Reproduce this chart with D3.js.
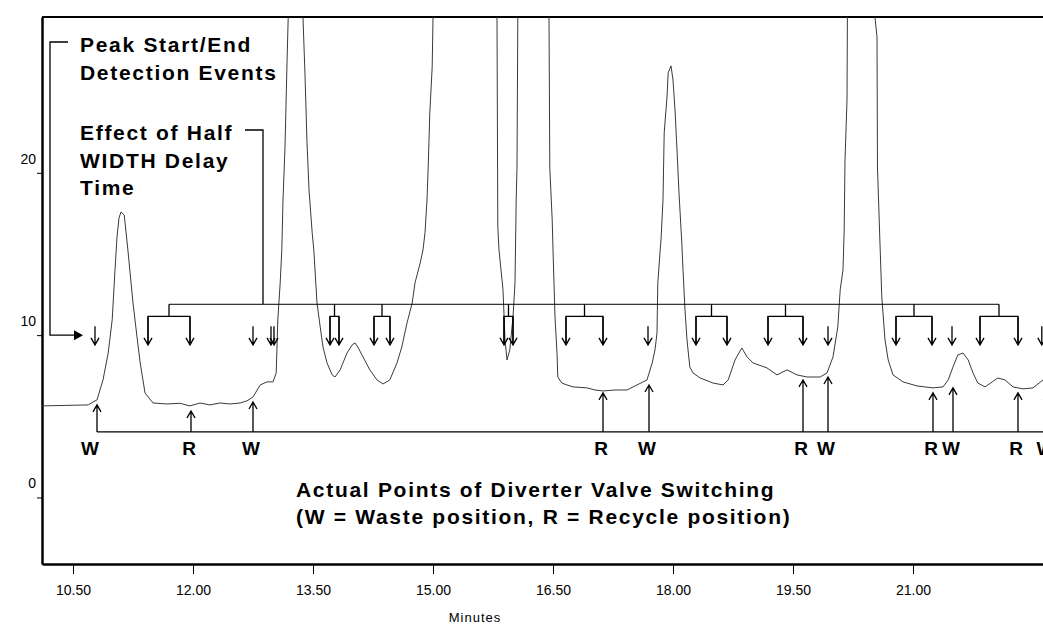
<!DOCTYPE html>
<html>
<head>
<meta charset="utf-8">
<title>Diverter valve switching</title>
<script src="https://d3js.org/d3.v7.min.js"></script>
<style>
  body { margin: 0; background: #fff; }
  svg { display: block; font-family: "Liberation Sans", Arial, sans-serif; }
</style>
</head>
<body>
<script>
// detector trace, minutes vs signal (off-scale peaks given a large apex value)
var traceTime = [
  10.11, 10.69, 10.75, 10.80, 10.875, 10.94, 10.99, 11.025, 11.05, 11.075,
  11.10, 11.14, 11.16, 11.19, 11.25, 11.30, 11.34, 11.40, 11.50, 11.675,
  11.84, 11.96, 12.09, 12.21, 12.34, 12.46, 12.59, 12.675, 12.75, 12.84,
  12.925, 13.00, 13.04, 13.05, 13.06, 13.09, 13.11, 13.125, 13.15, 13.175,
  13.19, 13.275, 13.375, 13.40, 13.425, 13.45, 13.49, 13.51, 13.55, 13.59,
  13.625, 13.675, 13.74, 13.775, 13.84, 13.925, 13.99, 14.025, 14.06, 14.125,
  14.21, 14.30, 14.375, 14.46, 14.55, 14.61, 14.675, 14.74, 14.775, 14.84,
  14.875, 14.90, 14.925, 14.94, 14.96, 14.99, 15.00, 15.40, 15.80, 15.81,
  15.825, 15.875, 15.90, 15.925, 15.96, 16.00, 16.025, 16.04, 16.05, 16.06,
  16.25, 16.45, 16.46, 16.49, 16.50, 16.525, 16.55, 16.56, 16.61, 16.675,
  16.75, 16.925, 17.025, 17.125, 17.275, 17.425, 17.55, 17.675, 17.74, 17.775,
  17.80, 17.81, 17.84, 17.85, 17.875, 17.89, 17.925, 17.94, 17.975, 18.00,
  18.025, 18.05, 18.075, 18.11, 18.125, 18.15, 18.175, 18.21, 18.25, 18.34,
  18.50, 18.625, 18.69, 18.775, 18.86, 18.925, 19.00, 19.175, 19.30, 19.425,
  19.55, 19.675, 19.84, 19.925, 20.00, 20.06, 20.09, 20.125, 20.14, 20.15,
  20.175, 20.18, 20.35, 20.525, 20.55, 20.556, 20.59, 20.61, 20.65, 20.69,
  20.75, 20.875, 21.05, 21.25, 21.375, 21.44, 21.50, 21.56, 21.625, 21.69,
  21.75, 21.81, 21.90, 21.99, 22.06, 22.15, 22.25, 22.375, 22.50, 22.625
];
var traceSignal = [
  5.64, 5.70, 5.88, 6.01, 7.24, 8.90, 10.94, 14.02, 16.05, 17.22,
  17.59, 17.41, 16.48, 15.06, 11.98, 9.89, 8.29, 6.44, 5.82, 5.76,
  5.80, 5.64, 5.82, 5.70, 5.82, 5.76, 5.82, 5.95, 6.19, 6.93,
  7.12, 7.12, 7.67, 9.27, 10.94, 13.22, 15.25, 18.33, 21.60, 26.77,
  29.54, 60, 29.54, 26.03, 21.84, 18.95, 16.30, 15.25, 11.98, 10.51,
  9.27, 8.29, 7.55, 7.42, 7.86, 8.90, 9.40, 9.52, 9.27, 8.66,
  7.86, 7.24, 6.99, 7.24, 8.29, 9.27, 10.75, 11.98, 13.22, 14.45,
  15.25, 16.30, 18.33, 20.36, 23.69, 26.53, 29.54, 70, 29.42, 16.67,
  15.25, 12.79, 9.70, 8.47, 9.09, 11.12, 13.22, 18.33, 20.36, 29.54,
  70, 29.54, 20.30, 17.10, 15.25, 11.12, 8.90, 7.42, 7.05, 6.93,
  6.81, 6.75, 6.62, 6.56, 6.62, 6.62, 6.93, 7.24, 8.29, 9.09,
  10.14, 13.22, 15.25, 15.87, 18.33, 22.46, 24.68, 26.16, 26.59, 25.72,
  23.88, 21.41, 18.76, 15.68, 14.02, 11.55, 9.70, 8.04, 7.67, 7.36,
  7.05, 6.93, 7.24, 8.47, 9.21, 8.66, 8.29, 7.98, 7.55, 7.86,
  7.55, 7.42, 7.42, 7.67, 8.66, 10.51, 12.79, 14.02, 16.48, 20.80,
  24.49, 29.54, 70, 29.54, 28.37, 20.36, 15.25, 12.35, 9.70, 8.47,
  7.55, 7.12, 6.87, 6.75, 6.81, 7.24, 8.04, 8.78, 8.90, 8.47,
  7.67, 7.05, 6.81, 7.12, 7.36, 7.24, 6.81, 6.69, 6.75, 7.24
];

// peak start/end detection events
var eventTimes = [10.775, 12.75, 12.975, 13.0125, 17.6875, 19.9375, 21.4875, 22.61];
// events shifted by the half WIDTH delay (start, end of each bracket)
var delayStart = [11.4375, 13.7125, 14.2625, 15.8875, 16.6625, 18.2875, 19.1875, 20.7875, 21.8375];
var delayEnd   = [11.9625, 13.825, 14.4625, 16.0, 17.125, 18.675, 19.625, 21.2375, 22.3125];

// diverter valve switching points
var valveTimes  = [10.8, 11.975, 12.75, 17.125, 17.7, 19.625, 19.9375, 21.25, 21.5, 22.3125, 22.68];
var valveLabels = ["W", "R", "W", "R", "W", "R", "W", "R", "W", "R", "W"];
var valveLevels = [5.70, 5.33, 5.88, 6.44, 6.93, 7.24, 7.42, 6.44, 6.75, 6.44, 6.44];

var xTicks = [10.5, 12, 13.5, 15, 16.5, 18, 19.5, 21];
var yTicks = [0, 10, 20];

var width = 1043, height = 626;
var plotL = 42, plotR = 1043, plotT = 17, plotB = 564;

var svg = d3.select("body").append("svg")
  .attr("width", width).attr("height", height);

var x = d3.scaleLinear().domain([10.1125, 22.625]).range([plotL, plotR]);
var y = d3.scaleLinear().domain([-4.1, 29.6]).range([plotB, plotT]);

svg.append("clipPath").attr("id", "plot")
  .append("rect").attr("x", plotL).attr("y", plotT)
  .attr("width", plotR - plotL).attr("height", plotB - plotT);

// frame + axes
svg.append("line").attr("x1", plotL).attr("x2", plotR).attr("y1", plotT).attr("y2", plotT)
  .attr("stroke", "#000").attr("stroke-width", 2);

var xAxis = d3.axisBottom(x).tickValues(xTicks).tickFormat(d3.format(".2f"))
  .tickSize(10).tickSizeOuter(0).tickPadding(11);
var gx = svg.append("g").attr("transform", "translate(0," + plotB + ")").call(xAxis);
gx.select(".domain").attr("stroke-width", 2.5);
gx.selectAll("text").attr("font-size", 14).attr("font-family", "Liberation Sans, Arial, sans-serif");

var yAxis = d3.axisLeft(y).tickValues(yTicks).tickSize(5).tickSizeOuter(0).tickPadding(1);
var gy = svg.append("g").attr("transform", "translate(" + plotL + ",0)").call(yAxis);
gy.select(".domain").attr("stroke-width", 2.5);
gy.selectAll("text").attr("font-size", 14).attr("y", -14)
  .attr("font-family", "Liberation Sans, Arial, sans-serif");

svg.append("text").attr("x", 475).attr("y", 622).attr("text-anchor", "middle")
  .attr("font-size", 13).attr("letter-spacing", 1).text("Minutes");

// trace
var trace = traceTime.map(function(t, i) { return [t, traceSignal[i]]; });
var line = d3.line().x(function(d) { return x(d[0]); }).y(function(d) { return y(d[1]); });
svg.append("path").datum(trace).attr("d", line)
  .attr("clip-path", "url(#plot)")
  .attr("fill", "none").attr("stroke", "#3a3a3a").attr("stroke-width", 1);

var ann = svg.append("g").attr("clip-path", "url(#plot)")
  .attr("fill", "none").attr("stroke", "#000").attr("stroke-width", 1.3);

function downArrow(px, y1, y2) {
  ann.append("path").attr("d", "M" + px + "," + y1 + "V" + y2 +
    "M" + (px - 4) + "," + (y2 - 7) + "L" + px + "," + y2 + "L" + (px + 4) + "," + (y2 - 7));
}
function upArrow(px, y1, y2) {
  ann.append("path").attr("d", "M" + px + "," + y1 + "V" + y2 +
    "M" + (px - 4) + "," + (y2 + 7) + "L" + px + "," + y2 + "L" + (px + 4) + "," + (y2 + 7));
}

var yLink = y(11.9), yBracket = y(11.15), yTip = y(9.4), yEventTop = y(10.55);

eventTimes.forEach(function(t) { downArrow(x(t), yEventTop, yTip); });

var mids = delayStart.map(function(s, i) { return (x(s) + x(delayEnd[i])) / 2; });
delayStart.forEach(function(s, i) {
  var a = x(s), b = x(delayEnd[i]);
  ann.append("path").attr("d", "M" + a + "," + (yTip - 2) + "V" + yBracket + "H" + b + "V" + (yTip - 2) +
    "M" + mids[i] + "," + yBracket + "V" + yLink);
  downArrow(a, yBracket, yTip);
  downArrow(b, yBracket, yTip);
});
ann.append("line").attr("x1", d3.min(mids)).attr("x2", d3.max(mids))
  .attr("y1", yLink).attr("y2", yLink).attr("stroke-width", 1);

// valve switching line and arrows
var yValve = y(4.04);
ann.append("line").attr("x1", x(valveTimes[0])).attr("x2", plotR)
  .attr("y1", yValve).attr("y2", yValve);
valveTimes.forEach(function(t, i) { upArrow(x(t), yValve, y(valveLevels[i])); });

svg.append("g").attr("clip-path", "url(#plot)")
  .selectAll("text").data(valveTimes).enter().append("text")
  .attr("x", function(d, i) { return x(d) - (i === 0 ? 7 : 2); })
  .attr("y", y(2.6))
  .attr("text-anchor", "middle").attr("font-size", 19).attr("font-weight", "bold")
  .text(function(d, i) { return valveLabels[i]; });

// annotation callouts
var note = svg.append("g").attr("fill", "none").attr("stroke", "#000").attr("stroke-width", 1.3);
note.append("path").attr("d", "M68,42H50V" + y(10) + "H74");
svg.append("path").attr("d", "M74," + (y(10) - 5) + "L83," + y(10) + "L74," + (y(10) + 5) + "Z")
  .attr("fill", "#000");
note.append("path").attr("d", "M245,130H" + x(12.875) + "V" + yLink);

var texts = [
  ["Peak Start/End", 80, 52], ["Detection Events", 80, 80],
  ["Effect of Half", 80, 140], ["WIDTH Delay", 80, 168], ["Time", 80, 195],
  ["Actual Points of Diverter Valve Switching", 296, 497],
  ["(W = Waste position, R = Recycle position)", 296, 524]
];
svg.append("g").selectAll("text").data(texts).enter().append("text")
  .attr("x", function(d) { return d[1]; }).attr("y", function(d) { return d[2]; })
  .attr("font-size", 21).attr("font-weight", "bold").attr("letter-spacing", 1.7)
  .text(function(d) { return d[0]; });
</script>
</body>
</html>
